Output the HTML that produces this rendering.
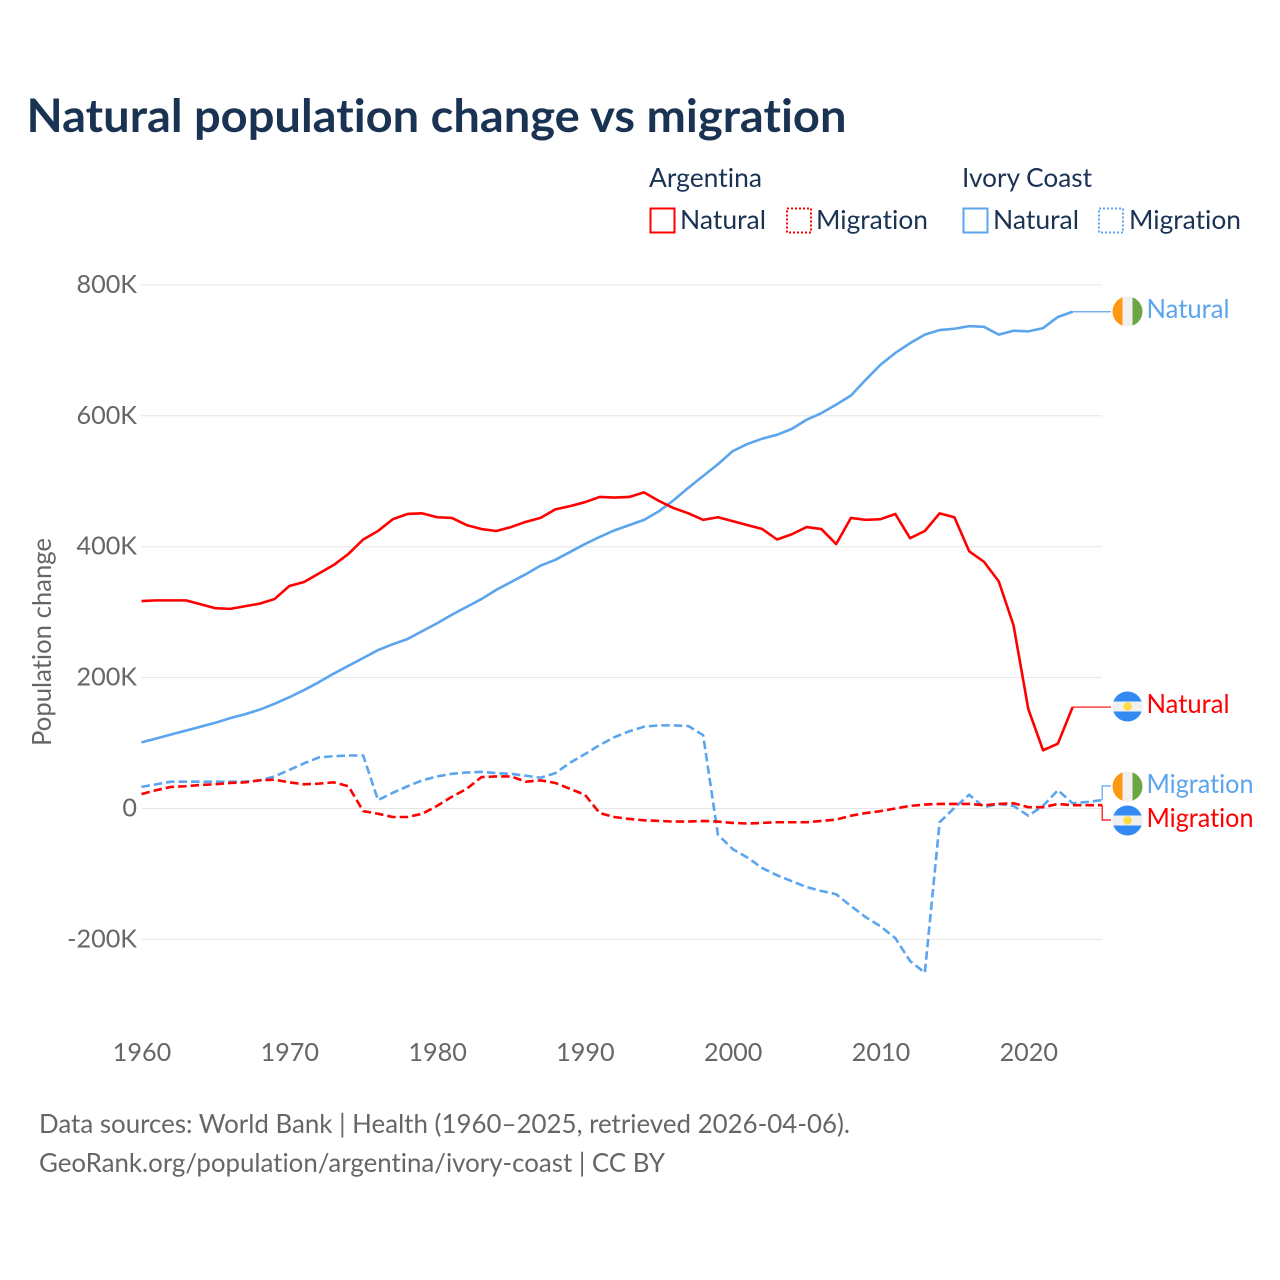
<!DOCTYPE html>
<html lang="en">
<head>
<meta charset="utf-8">
<title>Natural population change vs migration</title>
<style>
html,body{margin:0;padding:0;background:#fff;}
svg{display:block;}
text{font-family:"Lato","Carlito","Liberation Sans",sans-serif;font-variant-ligatures:none;}
</style>
</head>
<body>
<svg id="chart" xmlns="http://www.w3.org/2000/svg" width="1280" height="1280" viewBox="0 0 1280 1280">
  <rect width="1280" height="1280" fill="#ffffff"/>
  <text x="26.5" y="132" font-size="46" font-weight="700" fill="#1a3353" textLength="820" lengthAdjust="spacingAndGlyphs">Natural population change vs migration</text>

  <g font-size="26" fill="#1a3353">
    <text x="649" y="187" textLength="113" lengthAdjust="spacingAndGlyphs">Argentina</text>
    <text x="962" y="187" textLength="130" lengthAdjust="spacingAndGlyphs">Ivory Coast</text>
    <rect x="650.5" y="208.5" width="24" height="24" fill="none" stroke="#ff0000" stroke-width="2"/>
    <text x="680" y="229" textLength="86" lengthAdjust="spacingAndGlyphs">Natural</text>
    <rect x="787" y="208.5" width="24" height="24" fill="none" stroke="#ff0000" stroke-width="2" stroke-dasharray="2 2"/>
    <text x="816" y="229" textLength="112" lengthAdjust="spacingAndGlyphs">Migration</text>
    <rect x="963.5" y="208.5" width="24" height="24" fill="none" stroke="#5ba4ee" stroke-width="2"/>
    <text x="993" y="229" textLength="86" lengthAdjust="spacingAndGlyphs">Natural</text>
    <rect x="1099" y="208.5" width="24" height="24" fill="none" stroke="#5ba4ee" stroke-width="2" stroke-dasharray="2 2"/>
    <text x="1129" y="229" textLength="112" lengthAdjust="spacingAndGlyphs">Migration</text>
  </g>

  <text transform="translate(51,642) rotate(-90)" text-anchor="middle" font-size="26" fill="#666666" textLength="208" lengthAdjust="spacingAndGlyphs">Population change</text>

  <g id="grid"></g>
  <g id="yticks" font-size="25.2" fill="#666666" text-anchor="end"></g>
  <g id="xticks" font-size="25.2" fill="#666666" text-anchor="middle"></g>
  <g id="series" fill="none" stroke-linejoin="round"></g>
  <g id="connectors" fill="none"></g>

  <defs>
    <clipPath id="flag-clip"><circle cx="0" cy="0" r="15"/></clipPath>
    <g id="flag-ci">
      <g clip-path="url(#flag-clip)">
        <rect x="-15" y="-15" width="10" height="30" fill="#ff9811"/>
        <rect x="-5" y="-15" width="10" height="30" fill="#f0f0f0"/>
        <rect x="5" y="-15" width="10" height="30" fill="#6da544"/>
      </g>
    </g>
    <g id="flag-ar">
      <g clip-path="url(#flag-clip)">
        <rect x="-15" y="-15" width="30" height="10" fill="#338af3"/>
        <rect x="-15" y="-5" width="30" height="10" fill="#f0f0f0"/>
        <rect x="-15" y="5" width="30" height="10" fill="#338af3"/>
        <circle cx="0" cy="0" r="4.2" fill="#ffda44"/>
      </g>
    </g>
  </defs>

  <use href="#flag-ci" x="1127.5" y="311.5"/>
  <text x="1146.5" y="318" font-size="26" fill="#5ba4ee" textLength="83" lengthAdjust="spacingAndGlyphs">Natural</text>
  <use href="#flag-ar" x="1127.5" y="706.5"/>
  <text x="1146.5" y="713" font-size="26" fill="#ff0000" textLength="83" lengthAdjust="spacingAndGlyphs">Natural</text>
  <use href="#flag-ci" x="1127.5" y="786.5"/>
  <text x="1146.5" y="793" font-size="26" fill="#5ba4ee" textLength="107" lengthAdjust="spacingAndGlyphs">Migration</text>
  <use href="#flag-ar" x="1127.5" y="820.5"/>
  <text x="1146.5" y="827" font-size="26" fill="#ff0000" textLength="107" lengthAdjust="spacingAndGlyphs">Migration</text>

  <text x="39" y="1133" font-size="26" fill="#666666" textLength="811" lengthAdjust="spacingAndGlyphs">Data sources: World Bank | Health (1960–2025, retrieved 2026-04-06).</text>
  <text x="39" y="1172" font-size="26" fill="#666666" textLength="626" lengthAdjust="spacingAndGlyphs">GeoRank.org/population/argentina/ivory-coast | CC BY</text>
</svg>
<script>
const startYear = 1960;
const xTickYears = [1960, 1970, 1980, 1990, 2000, 2010, 2020];
const yTickValues = [800, 600, 400, 200, 0, -200];
const yTickLabels = ['800K', '600K', '400K', '200K', '0', '-200K'];
const argentinaNatural = [317,318,318,318,312,306,305,309,313,320,340,346,359,372,389,411,424,442,450,451,445,444,433,427,424,430,438,444,457,462,468,476,475,476,483,470,459,451,441,445,439,433,427,411,419,430,427,404,444,441,442,450,413,424,451,445,393,377,347,280,152,89,99,155];
const ivoryNatural = [101,107,113,119,125,131,138,144,151,160,170,181,193,206,218,230,242,251,259,271,283,296,308,320,334,346,358,371,380,392,404,415,425,433,441,454,471,490,508,526,546,557,565,571,580,594,604,617,631,655,678,696,711,724,731,733,737,736,724,730,729,734,751,759];
const argentinaMigration = [22,28,33,34,36,37,39,40,43,44,40,37,38,40,34,-4,-8,-13,-13,-8,4,18,30,48,49,49,41,43,39,30,21,-7,-13,-16,-18,-19,-20,-20,-19,-20,-22,-23,-22,-21,-21,-21,-19,-17,-11,-7,-4,0,4,6,7,7,7,5,7,8,2,2,7,5,5,5];
const ivoryMigration = [33,37,41,41,41,41,41,41,43,49,59,69,78,80,81,81,13,24,34,43,49,53,55,56,54,53,50,47,54,70,83,97,109,118,125,127,127,126,112,-40,-62,-75,-91,-102,-111,-120,-126,-131,-149,-166,-180,-198,-233,-251,-21,1,21,2,7,4,-11,4,28,8,10,13];

const migrationLabelIvoryY = 786;
const migrationLabelArgentinaY = 820;
const SVGNS = 'http://www.w3.org/2000/svg';

function xScale(year) { return 141.5 + (year - 1960) * 14.78; }
function yScale(k) { return 808.5 - k * 0.6545; }
function make(tag) { return document.createElementNS(SVGNS, tag); }
function linePath(values) {
  return values.map(function (v, i) {
    return (i ? 'L' : 'M') + xScale(startYear + i).toFixed(2) + ' ' + yScale(v).toFixed(2);
  }).join(' ');
}

const grid = document.getElementById('grid');
const yticks = document.getElementById('yticks');
yTickValues.forEach(function (v, i) {
  const ln = make('line');
  
  
  ln.setAttribute('x1', xScale(1960));
  ln.setAttribute('x2', xScale(2025));
  ln.setAttribute('y1', yScale(v));
  ln.setAttribute('y2', yScale(v));
  ln.setAttribute('stroke', '#e6e6e6');
  ln.setAttribute('stroke-width', '1');
  grid.appendChild(ln);
  const t = make('text');
  
  
  t.setAttribute('x', 137);
  t.setAttribute('y', yScale(v) + 8);
  t.textContent = yTickLabels[i];
  yticks.appendChild(t);
});

const xticks = document.getElementById('xticks');
xTickYears.forEach(function (yr) {
  const t = make('text');
  
  
  t.setAttribute('x', xScale(yr) + 0.5);
  t.setAttribute('y', 1061);
  t.textContent = String(yr);
  xticks.appendChild(t);
});

const seriesGroup = document.getElementById('series');

const pathIvoryMigration = make('path');


pathIvoryMigration.setAttribute('d', linePath(ivoryMigration));
pathIvoryMigration.setAttribute('stroke', '#5ba4ee');
pathIvoryMigration.setAttribute('stroke-width', '2.6');
pathIvoryMigration.setAttribute('stroke-dasharray', '8.5 4');
seriesGroup.appendChild(pathIvoryMigration);

const pathArgentinaMigration = make('path');


pathArgentinaMigration.setAttribute('d', linePath(argentinaMigration));
pathArgentinaMigration.setAttribute('stroke', '#ff0000');
pathArgentinaMigration.setAttribute('stroke-width', '2.6');
pathArgentinaMigration.setAttribute('stroke-dasharray', '8.5 4');
seriesGroup.appendChild(pathArgentinaMigration);

const pathIvoryNatural = make('path');


pathIvoryNatural.setAttribute('d', linePath(ivoryNatural));
pathIvoryNatural.setAttribute('stroke', '#5ba4ee');
pathIvoryNatural.setAttribute('stroke-width', '2.6');
seriesGroup.appendChild(pathIvoryNatural);

const pathArgentinaNatural = make('path');


pathArgentinaNatural.setAttribute('d', linePath(argentinaNatural));
pathArgentinaNatural.setAttribute('stroke', '#ff0000');
pathArgentinaNatural.setAttribute('stroke-width', '2.6');
seriesGroup.appendChild(pathArgentinaNatural);

const connectors = document.getElementById('connectors');
function endPoint(values) {
  return [xScale(startYear + values.length - 1), yScale(values[values.length - 1])];
}

const endIvoryNatural = endPoint(ivoryNatural);
const connIvoryNatural = make('path');


connIvoryNatural.setAttribute('d', 'M' + endIvoryNatural[0] + ' ' + endIvoryNatural[1] + ' H1111');
connIvoryNatural.setAttribute('stroke', '#5ba4ee');
connIvoryNatural.setAttribute('stroke-width', '1.2');
connectors.appendChild(connIvoryNatural);

const endArgentinaNatural = endPoint(argentinaNatural);
const connArgentinaNatural = make('path');


connArgentinaNatural.setAttribute('d', 'M' + endArgentinaNatural[0] + ' ' + endArgentinaNatural[1] + ' H1111');
connArgentinaNatural.setAttribute('stroke', '#ff0000');
connArgentinaNatural.setAttribute('stroke-width', '1.2');
connectors.appendChild(connArgentinaNatural);

const endIvoryMigration = endPoint(ivoryMigration);
const connIvoryMigration = make('path');


connIvoryMigration.setAttribute('d', 'M' + endIvoryMigration[0] + ' ' + endIvoryMigration[1] + ' V' + migrationLabelIvoryY + ' H1111');
connIvoryMigration.setAttribute('stroke', '#5ba4ee');
connIvoryMigration.setAttribute('stroke-width', '1.2');
connectors.appendChild(connIvoryMigration);

const endArgentinaMigration = endPoint(argentinaMigration);
const connArgentinaMigration = make('path');


connArgentinaMigration.setAttribute('d', 'M' + endArgentinaMigration[0] + ' ' + endArgentinaMigration[1] + ' V' + migrationLabelArgentinaY + ' H1111');
connArgentinaMigration.setAttribute('stroke', '#ff0000');
connArgentinaMigration.setAttribute('stroke-width', '1.2');
connectors.appendChild(connArgentinaMigration);
</script>
</body>
</html>
